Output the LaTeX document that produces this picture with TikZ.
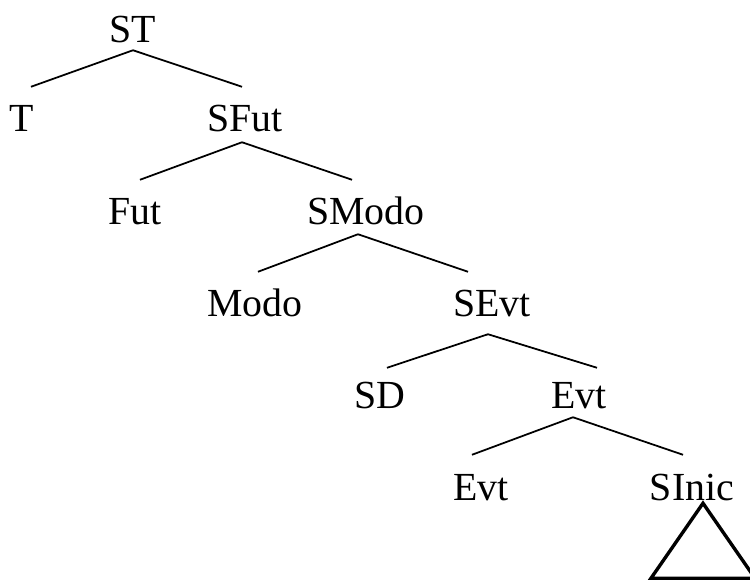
\documentclass[tikz,border=0pt]{standalone}
\usepackage{fontspec}
\setmainfont{Liberation Serif}
\tikzset{
  synlabel/.style={anchor=base, inner xsep=0pt, inner ysep=0.3cm, text height=0.78cm, text depth=0pt, font=\fontsize{34}{40}\selectfont},
  synbranch/.style={line width=1.5pt},
  synroof/.style={line width=2.9pt, line join=miter}
}
\begin{document}
\begin{tikzpicture}[x=0.03cm, y=-0.03cm]
\useasboundingbox (0,0) rectangle (750,579);

% labels, one row per level
\node[synlabel] (st) at (133,42) {ST};
\node[synlabel] (t) at (22,131) {T};
\node[synlabel] (sfut) at (245,131) {SFut};
\node[synlabel] (fut) at (135,224) {Fut};
\node[synlabel] (smodo) at (366,224) {SModo};
\node[synlabel] (modo) at (255,316) {Modo};
\node[synlabel] (sevt) at (492,316) {SEvt};
\node[synlabel] (sd) at (380,408) {SD};
\node[synlabel] (evt) at (579,408) {Evt};
\node[synlabel] (evthead) at (481,500) {Evt};
\node[synlabel] (sinic) at (692,500) {SInic};

% branch points under each mother node
\coordinate (st-b) at ([yshift=0.06cm]st.south);
\coordinate (sfut-b) at ([xshift=-0.09cm, yshift=-0.03cm]sfut.south);
\coordinate (smodo-b) at ([xshift=-0.24cm]smodo.south);
\coordinate (sevt-b) at ([xshift=-0.12cm, yshift=-0.24cm]sevt.south);
\coordinate (evt-b) at ([xshift=-0.18cm, yshift=0.03cm]evt.south);

% branches
\draw[synbranch] (st-b) -- ([xshift=0.27cm, yshift=0.24cm]t.north);
\draw[synbranch] (st-b) -- ([xshift=-0.09cm, yshift=0.24cm]sfut.north);
\draw[synbranch] (sfut-b) -- ([xshift=0.15cm, yshift=0.24cm]fut.north);
\draw[synbranch] (sfut-b) -- ([xshift=-0.42cm, yshift=0.24cm]smodo.north);
\draw[synbranch] (smodo-b) -- ([xshift=0.09cm, yshift=0.24cm]modo.north);
\draw[synbranch] (smodo-b) -- ([xshift=-0.72cm, yshift=0.24cm]sevt.north);
\draw[synbranch] (sevt-b) -- ([xshift=0.21cm, yshift=0.12cm]sd.north);
\draw[synbranch] (sevt-b) -- ([xshift=0.54cm, yshift=0.12cm]evt.north);
\draw[synbranch] (evt-b) -- ([xshift=-0.27cm, yshift=0.27cm]evthead.north);
\draw[synbranch] (evt-b) -- ([xshift=-0.27cm, yshift=0.27cm]sinic.north);

% roof under SInic
\draw[synroof] ([xshift=0.33cm, yshift=0.21cm]sinic.south) -- ++(-52,75) -- ++(104,0) -- cycle;
\end{tikzpicture}
\end{document}
